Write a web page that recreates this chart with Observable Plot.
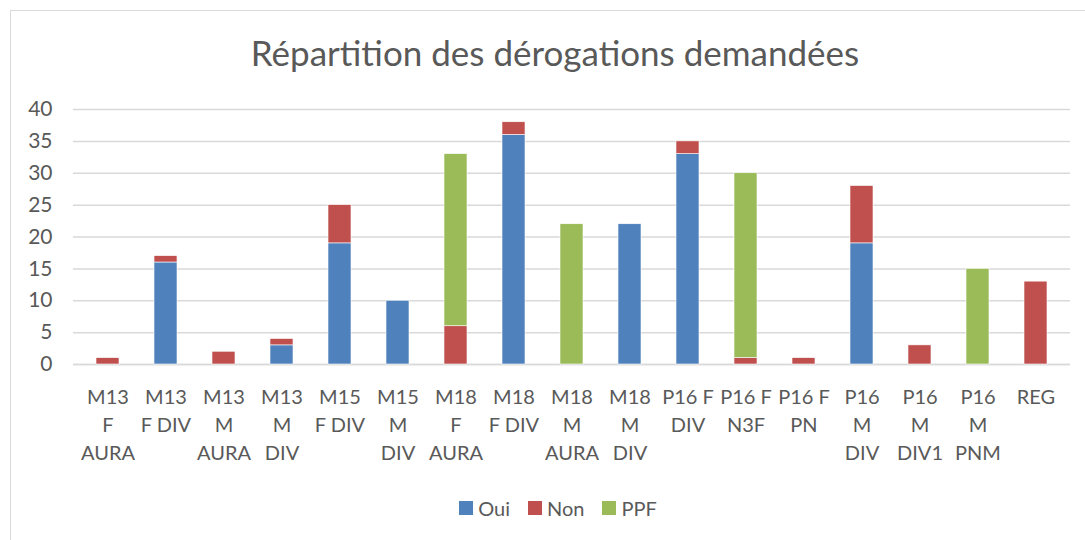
<!DOCTYPE html>
<html>
<head>
<meta charset="utf-8">
<script src="https://cdn.jsdelivr.net/npm/d3@7"></script>
<script src="https://cdn.jsdelivr.net/npm/@observablehq/plot@0.6"></script>
<style>
  body { margin: 0; background: #fff; overflow: hidden; font-family: Lato, "Open Sans", sans-serif; }
  #frame { position: absolute; left: 10px; top: 10px; width: 1100px; height: 560px; border: 1px solid #d9d9d9; box-sizing: border-box; }
  #title { position: absolute; left: 0; top: 31px; width: 1110px; text-align: center; font-size: 35px; color: #595959; }
  #chart { position: absolute; left: 0; top: 90px; }
  #legend { position: absolute; top: 495px; left: 0; width: 1116px; text-align: center; font-size: 20px; color: #595959; }
  .item { display: inline-flex; align-items: center; margin: 0 9px; }
  .sw { width: 14px; height: 14px; margin-right: 5px; display: inline-block; }
</style>
</head>
<body>
<div id="frame"></div>
<div id="title">Répartition des dérogations demandées</div>
<div id="chart"></div>
<div id="legend"></div>
<script>
const categories = ["M13 F AURA","M13 F DIV","M13 M AURA","M13 M DIV","M15 F DIV","M15 M DIV","M18 F AURA","M18 F DIV","M18 M AURA","M18 M DIV","P16 F DIV","P16 F N3F","P16 F PN","P16 M DIV","P16 M DIV1","P16 M PNM","REG"];
const tickLabels = ["M13\nF\nAURA","M13\nF DIV","M13\nM\nAURA","M13\nM\nDIV","M15\nF DIV","M15\nM\nDIV","M18\nF\nAURA","M18\nF DIV","M18\nM\nAURA","M18\nM\nDIV","P16 F\nDIV","P16 F\nN3F","P16 F\nPN","P16\nM\nDIV","P16\nM\nDIV1","P16\nM\nPNM","REG"];
const oui = [0,16,0,3,19,10,0,36,0,22,33,0,0,19,0,0,0];
const non = [1,1,2,1,6,0,6,2,0,0,2,1,1,9,3,0,13];
const ppf = [0,0,0,0,0,0,27,0,22,0,0,29,0,0,0,15,0];
const seriesNames = ["Oui","Non","PPF"];
const seriesColors = ["#4F81BD","#C0504D","#9BBB59"];
const yTicks = [0,5,10,15,20,25,30,35,40];

const seriesValues = [oui, non, ppf];
const table = [];
categories.forEach((c, i) => {
  seriesNames.forEach((s, j) => {
    table.push({cat: c, serie: s, value: seriesValues[j][i]});
  });
});
const labelOf = new Map(categories.map((c, i) => [c, tickLabels[i]]));

const chart = Plot.plot({
  width: 1085,
  height: 380,
  marginLeft: 73,
  marginRight: 15,
  marginTop: 19,
  marginBottom: 106,
  style: { fontFamily: "Lato, 'Open Sans', sans-serif", color: "#595959", background: "transparent" },
  x: { domain: categories, paddingInner: 0.6, paddingOuter: 0.3, label: null },
  y: { domain: [0, 40], label: null },
  color: { domain: seriesNames, range: seriesColors },
  marks: [
    Plot.gridY(yTicks, { stroke: "#d9d9d9", strokeOpacity: 1, strokeWidth: 1.5 }),
    Plot.ruleY([0], { stroke: "#d9d9d9", strokeWidth: 1.5 }),
    Plot.barY(table, Plot.stackY({ order: seriesNames }, { x: "cat", y: "value", fill: "serie", stroke: "white", strokeWidth: 0.6 })),
    Plot.axisY({ ticks: yTicks, tickSize: 0, tickPadding: 21, fontSize: 21, fill: "#595959", label: null }),
    Plot.axisX({ tickSize: 0, tickPadding: 20, fontSize: 20, lineHeight: 1.4, fill: "#595959", label: null, tickFormat: d => labelOf.get(d) })
  ]
});
document.getElementById("chart").appendChild(chart);

const legend = document.getElementById("legend");
seriesNames.forEach((s, j) => {
  const it = document.createElement("span");
  it.className = "item";
  it.innerHTML = `<span class="sw" style="background:${seriesColors[j]}"></span>${s}`;
  legend.appendChild(it);
});
</script>
</body>
</html>
